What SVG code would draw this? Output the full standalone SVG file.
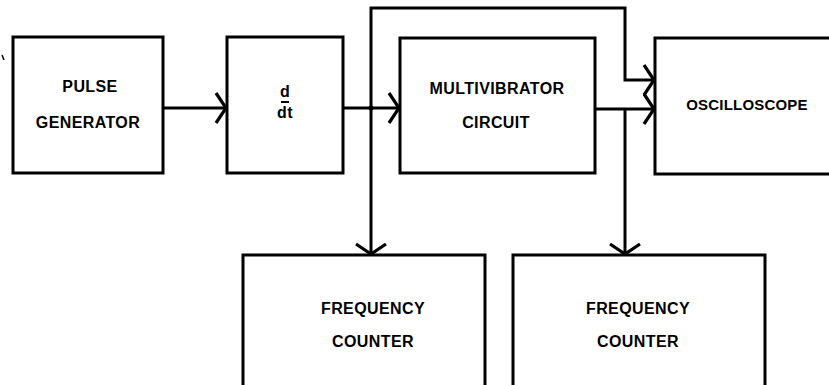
<svg xmlns="http://www.w3.org/2000/svg" width="829" height="385" viewBox="0 0 829 385">
  <style>
    .box { fill: #ffffff; stroke: #000000; stroke-width: 3; }
    .wire { fill: none; stroke: #000000; stroke-width: 3; stroke-linejoin: miter; }
    .lbl { font-family: "Liberation Sans", Arial, sans-serif; font-weight: bold; font-size: 16px; letter-spacing: 0.4px; fill: #000000; text-anchor: middle; dominant-baseline: central; }
  </style>
  <defs>
    <marker id="arrow" markerUnits="userSpaceOnUse" viewBox="-14 -18 18 36" refX="0" refY="0" markerWidth="18" markerHeight="36" orient="auto">
      <path d="M-10,-15 L0,0 L-10,15" fill="none" stroke="#000000" stroke-width="3.2" stroke-linejoin="miter"/>
    </marker>
  </defs>
  <rect x="0" y="0" width="829" height="385" fill="#ffffff"/>

  <path d="M2,55 L4,60" stroke="#000000" stroke-width="1.5" fill="none"/>

  <g id="connectors">
    <path class="wire" d="M163,108 L226,108" marker-end="url(#arrow)"/>
    <path class="wire" d="M343,108 L399,108" marker-end="url(#arrow)"/>
    <path class="wire" d="M371,108 L371,254" marker-end="url(#arrow)"/>
    <path class="wire" d="M371,108 L371,8 L625,8 L625,80 L654,80" marker-end="url(#arrow)"/>
    <path class="wire" d="M595,109 L654,109" marker-end="url(#arrow)"/>
    <path class="wire" d="M625,109 L625,254" marker-end="url(#arrow)"/>
    <circle cx="371" cy="108" r="2.5" fill="#000000"/>
  </g>

  <g id="pulse-generator">
    <rect class="box" x="13" y="37" width="150" height="136"/>
    <text class="lbl" x="90" y="86">PULSE</text>
    <text class="lbl" x="88" y="122">GENERATOR</text>
  </g>

  <g id="differentiator">
    <rect class="box" x="227" y="37" width="116" height="136"/>
    <text class="lbl" x="285" y="91">d</text>
    <line x1="281" y1="102" x2="289" y2="102" stroke="#000000" stroke-width="2"/>
    <text class="lbl" x="285" y="112">dt</text>
  </g>

  <g id="multivibrator">
    <rect class="box" x="400" y="38" width="195" height="135"/>
    <text class="lbl" x="497" y="88">MULTIVIBRATOR</text>
    <text class="lbl" x="496" y="122">CIRCUIT</text>
  </g>

  <g id="oscilloscope">
    <rect class="box" x="655" y="38" width="185" height="136"/>
    <text class="lbl" x="747" y="104" style="font-size:15px;letter-spacing:0.2px">OSCILLOSCOPE</text>
  </g>

  <g id="frequency-counter-1">
    <rect class="box" x="243" y="255" width="242" height="140"/>
    <text class="lbl" x="373" y="308">FREQUENCY</text>
    <text class="lbl" x="373" y="341">COUNTER</text>
  </g>

  <g id="frequency-counter-2">
    <rect class="box" x="513" y="255" width="252" height="140"/>
    <text class="lbl" x="638" y="308">FREQUENCY</text>
    <text class="lbl" x="638" y="341">COUNTER</text>
  </g>
</svg>
